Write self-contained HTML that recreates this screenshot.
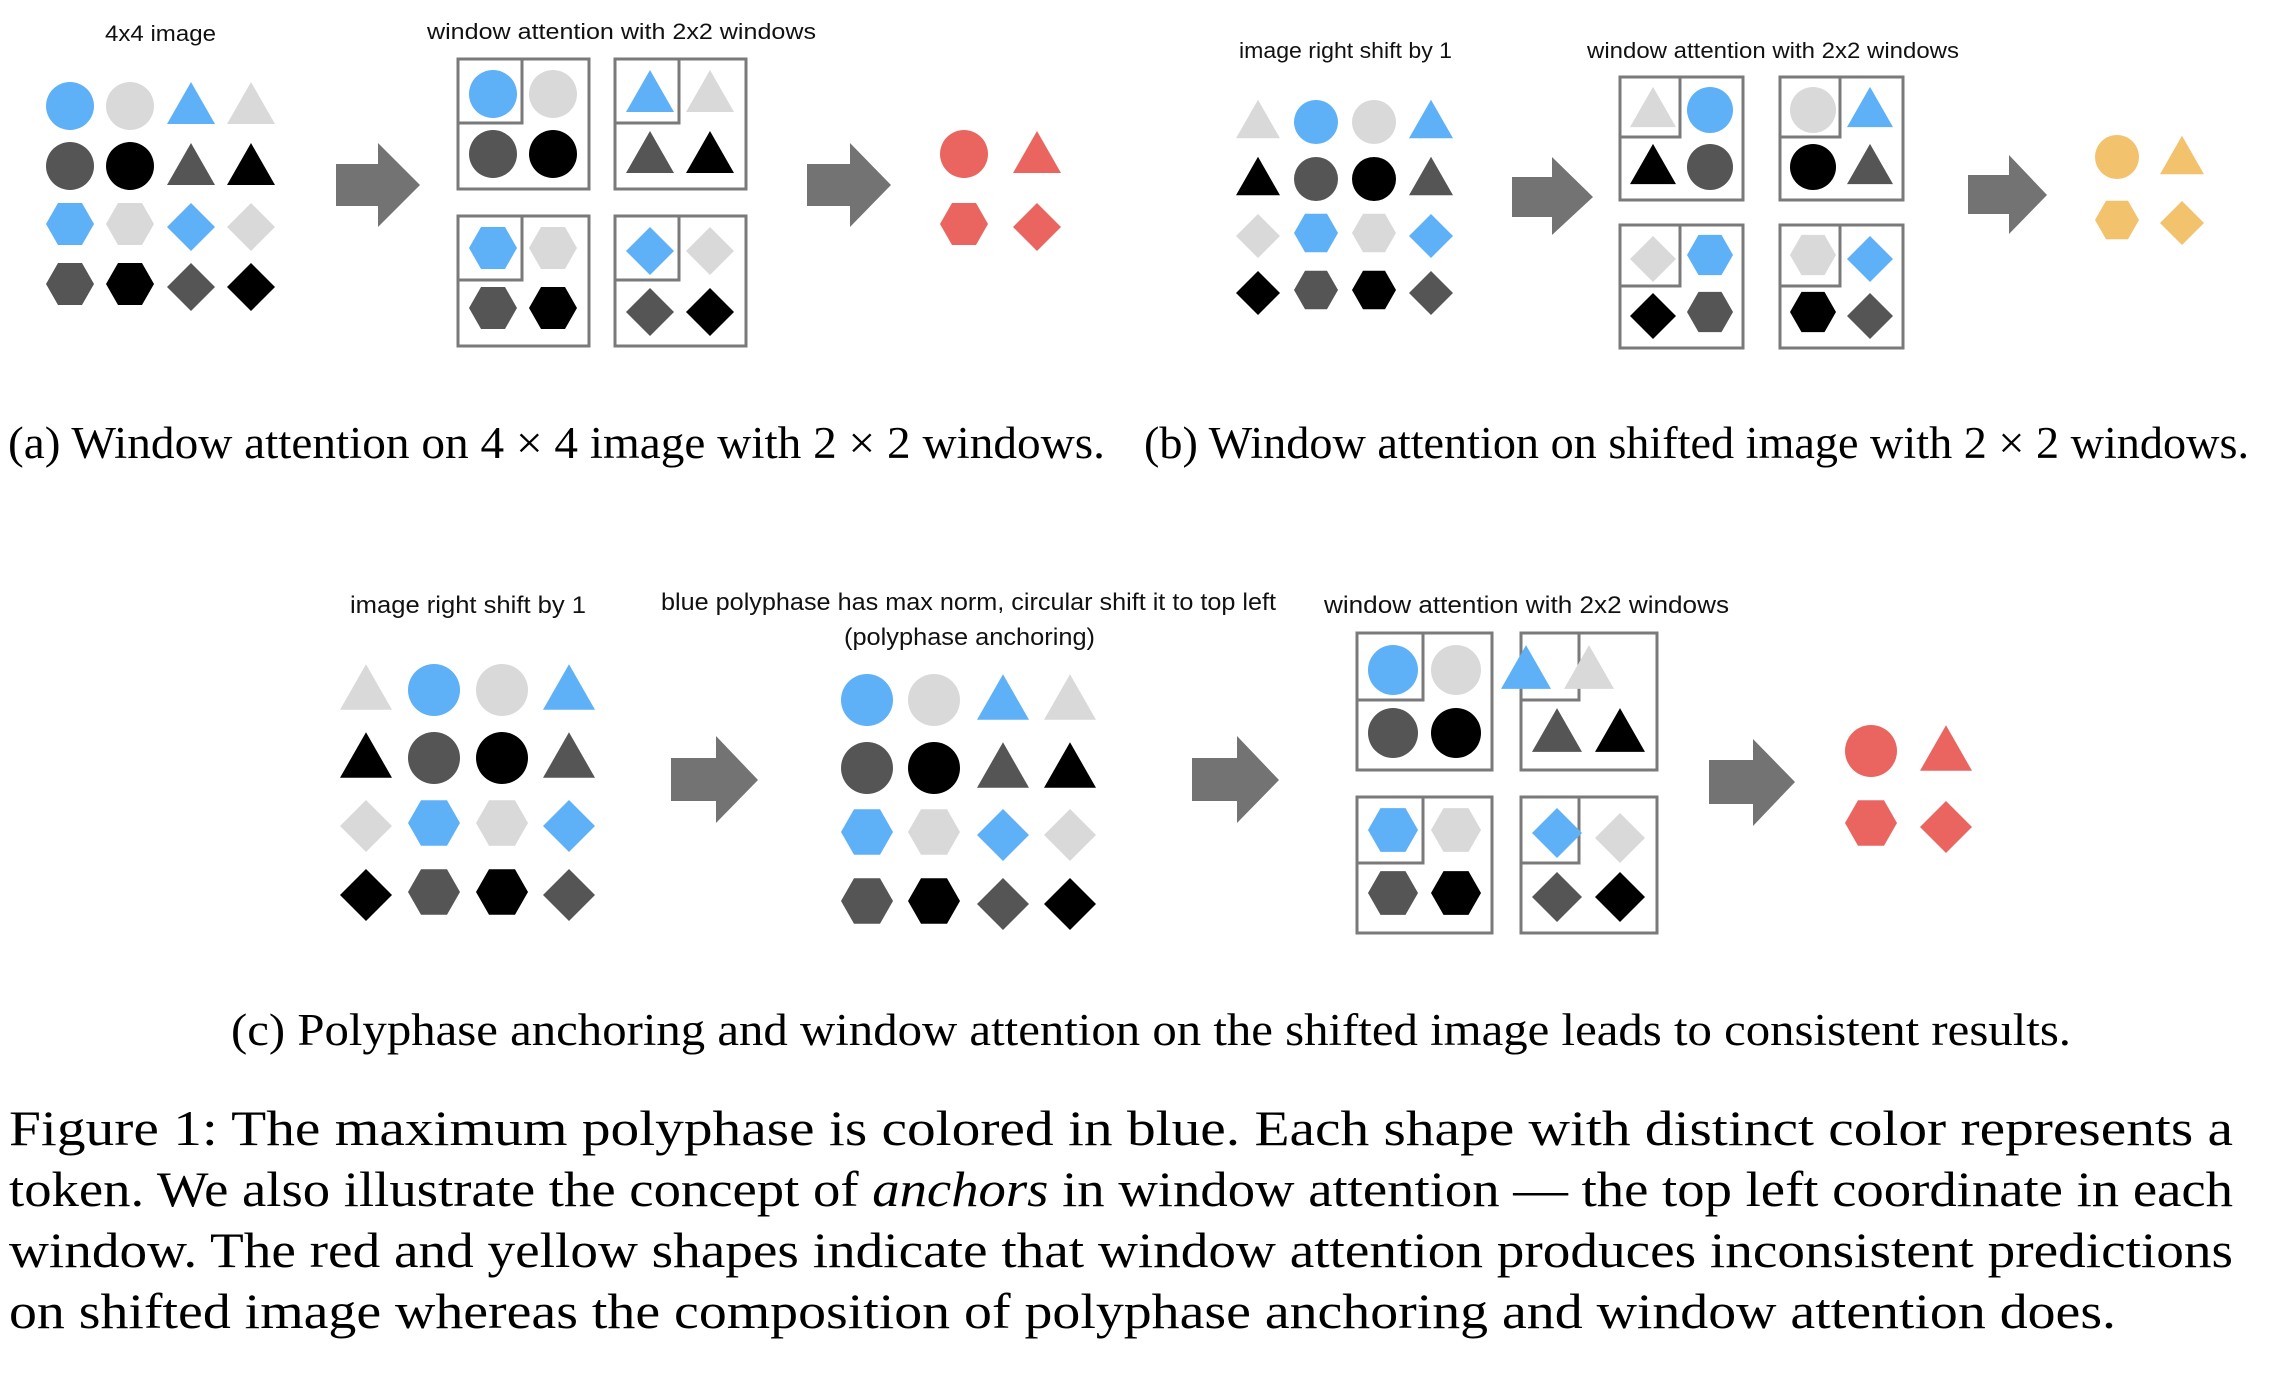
<!DOCTYPE html>
<html><head><meta charset="utf-8"><style>
html,body{margin:0;padding:0;background:#fff}
svg{display:block}
.s{font-family:"Liberation Sans",sans-serif;fill:#111}
.t{font-family:"Liberation Serif",serif;fill:#000}
</style></head><body>
<svg xmlns="http://www.w3.org/2000/svg" width="2278" height="1374" viewBox="0 0 2278 1374">
<defs>
<circle id="c" cx="0" cy="0" r="1"/>
<polygon id="t" points="0,-0.875 1,0.875 -1,0.875"/>
<polygon id="h" points="-1,0 -0.5,-0.875 0.5,-0.875 1,0 0.5,0.875 -0.5,0.875"/>
<polygon id="d" points="0,-1 1,0 0,1 -1,0"/>
</defs>
<rect width="2278" height="1374" fill="#fff"/>

<!-- ===== (a) ===== -->
<text class="s" x="105" y="41" font-size="22" textLength="111" lengthAdjust="spacingAndGlyphs">4x4 image</text>
<text class="s" x="427" y="39" font-size="22" textLength="389" lengthAdjust="spacingAndGlyphs">window attention with 2x2 windows</text>
<g>
<use href="#c" transform="translate(70,106) scale(24)" fill="#5eb0f7"/>
<use href="#c" transform="translate(130,106) scale(24)" fill="#d9d9d9"/>
<use href="#t" transform="translate(191,103) scale(24)" fill="#5eb0f7"/>
<use href="#t" transform="translate(251,103) scale(24)" fill="#d9d9d9"/>
<use href="#c" transform="translate(70,166) scale(24)" fill="#555"/>
<use href="#c" transform="translate(130,166) scale(24)" fill="#000"/>
<use href="#t" transform="translate(191,164) scale(24)" fill="#555"/>
<use href="#t" transform="translate(251,164) scale(24)" fill="#000"/>
<use href="#h" transform="translate(70,224) scale(24)" fill="#5eb0f7"/>
<use href="#h" transform="translate(130,224) scale(24)" fill="#d9d9d9"/>
<use href="#d" transform="translate(191,227) scale(24)" fill="#5eb0f7"/>
<use href="#d" transform="translate(251,227) scale(24)" fill="#d9d9d9"/>
<use href="#h" transform="translate(70,284) scale(24)" fill="#555"/>
<use href="#h" transform="translate(130,284) scale(24)" fill="#000"/>
<use href="#d" transform="translate(191,287) scale(24)" fill="#555"/>
<use href="#d" transform="translate(251,287) scale(24)" fill="#000"/>
</g>
<polygon points="336,164 378,164 378,143 420,185 378,227 378,206 336,206" fill="#737373"/>
<g fill="none" stroke="#7a7a7a" stroke-width="3">
<rect x="458" y="59" width="131" height="130"/><polyline points="458,123 522,123 522,59"/>
<rect x="615" y="59" width="131" height="130"/><polyline points="615,123 679,123 679,59"/>
<rect x="458" y="216" width="131" height="130"/><polyline points="458,280 522,280 522,216"/>
<rect x="615" y="216" width="131" height="130"/><polyline points="615,280 679,280 679,216"/>
</g>
<use href="#c" transform="translate(493,94) scale(24)" fill="#5eb0f7"/>
<use href="#c" transform="translate(553,94) scale(24)" fill="#d9d9d9"/>
<use href="#c" transform="translate(493,154) scale(24)" fill="#555"/>
<use href="#c" transform="translate(553,154) scale(24)" fill="#000"/>
<use href="#t" transform="translate(650,91) scale(24)" fill="#5eb0f7"/>
<use href="#t" transform="translate(710,91) scale(24)" fill="#d9d9d9"/>
<use href="#t" transform="translate(650,152) scale(24)" fill="#555"/>
<use href="#t" transform="translate(710,152) scale(24)" fill="#000"/>
<use href="#h" transform="translate(493,248) scale(24)" fill="#5eb0f7"/>
<use href="#h" transform="translate(553,248) scale(24)" fill="#d9d9d9"/>
<use href="#h" transform="translate(493,308) scale(24)" fill="#555"/>
<use href="#h" transform="translate(553,308) scale(24)" fill="#000"/>
<use href="#d" transform="translate(650,251) scale(24)" fill="#5eb0f7"/>
<use href="#d" transform="translate(710,251) scale(24)" fill="#d9d9d9"/>
<use href="#d" transform="translate(650,312) scale(24)" fill="#555"/>
<use href="#d" transform="translate(710,312) scale(24)" fill="#000"/>
<polygon points="807,164 850,164 850,143 891,185 850,227 850,206 807,206" fill="#737373"/>
<use href="#c" transform="translate(964,154) scale(24)" fill="#ea6560"/>
<use href="#t" transform="translate(1037,152) scale(24)" fill="#ea6560"/>
<use href="#h" transform="translate(964,224) scale(24)" fill="#ea6560"/>
<use href="#d" transform="translate(1037,227) scale(24)" fill="#ea6560"/>
<text class="t" x="8" y="458" font-size="45" textLength="1097" lengthAdjust="spacingAndGlyphs">(a) Window attention on 4 × 4 image with 2 × 2 windows.</text>

<!-- ===== (b) ===== -->
<text class="s" x="1239" y="58" font-size="22" textLength="213" lengthAdjust="spacingAndGlyphs">image right shift by 1</text>
<text class="s" x="1587" y="58" font-size="22" textLength="372" lengthAdjust="spacingAndGlyphs">window attention with 2x2 windows</text>
<g>
<use href="#t" transform="translate(1258,119) scale(22)" fill="#d9d9d9"/>
<use href="#c" transform="translate(1316,122) scale(22)" fill="#5eb0f7"/>
<use href="#c" transform="translate(1374,122) scale(22)" fill="#d9d9d9"/>
<use href="#t" transform="translate(1431,119) scale(22)" fill="#5eb0f7"/>
<use href="#t" transform="translate(1258,176) scale(22)" fill="#000"/>
<use href="#c" transform="translate(1316,179) scale(22)" fill="#555"/>
<use href="#c" transform="translate(1374,179) scale(22)" fill="#000"/>
<use href="#t" transform="translate(1431,176) scale(22)" fill="#555"/>
<use href="#d" transform="translate(1258,236) scale(22)" fill="#d9d9d9"/>
<use href="#h" transform="translate(1316,233) scale(22)" fill="#5eb0f7"/>
<use href="#h" transform="translate(1374,233) scale(22)" fill="#d9d9d9"/>
<use href="#d" transform="translate(1431,236) scale(22)" fill="#5eb0f7"/>
<use href="#d" transform="translate(1258,293) scale(22)" fill="#000"/>
<use href="#h" transform="translate(1316,290) scale(22)" fill="#555"/>
<use href="#h" transform="translate(1374,290) scale(22)" fill="#000"/>
<use href="#d" transform="translate(1431,293) scale(22)" fill="#555"/>
</g>
<polygon points="1512,177 1552,177 1552,157 1593,197 1552,235 1552,217 1512,217" fill="#737373"/>
<g fill="none" stroke="#7a7a7a" stroke-width="3">
<rect x="1620" y="77" width="123" height="123"/><polyline points="1620,137 1680,137 1680,77"/>
<rect x="1780" y="77" width="123" height="123"/><polyline points="1780,137 1840,137 1840,77"/>
<rect x="1620" y="225" width="123" height="123"/><polyline points="1620,286 1680,286 1680,225"/>
<rect x="1780" y="225" width="123" height="123"/><polyline points="1780,286 1840,286 1840,225"/>
</g>
<use href="#t" transform="translate(1653,107) scale(23)" fill="#d9d9d9"/>
<use href="#c" transform="translate(1710,110) scale(23)" fill="#5eb0f7"/>
<use href="#t" transform="translate(1653,164) scale(23)" fill="#000"/>
<use href="#c" transform="translate(1710,167) scale(23)" fill="#555"/>
<use href="#c" transform="translate(1813,110) scale(23)" fill="#d9d9d9"/>
<use href="#t" transform="translate(1870,107) scale(23)" fill="#5eb0f7"/>
<use href="#c" transform="translate(1813,167) scale(23)" fill="#000"/>
<use href="#t" transform="translate(1870,164) scale(23)" fill="#555"/>
<use href="#d" transform="translate(1653,259) scale(23)" fill="#d9d9d9"/>
<use href="#h" transform="translate(1710,255) scale(23)" fill="#5eb0f7"/>
<use href="#d" transform="translate(1653,316) scale(23)" fill="#000"/>
<use href="#h" transform="translate(1710,312) scale(23)" fill="#555"/>
<use href="#h" transform="translate(1813,255) scale(23)" fill="#d9d9d9"/>
<use href="#d" transform="translate(1870,259) scale(23)" fill="#5eb0f7"/>
<use href="#h" transform="translate(1813,312) scale(23)" fill="#000"/>
<use href="#d" transform="translate(1870,316) scale(23)" fill="#555"/>
<polygon points="1968,175 2009,175 2009,155 2047,195 2009,234 2009,214 1968,214" fill="#737373"/>
<use href="#c" transform="translate(2117,157) scale(22)" fill="#f2c26c"/>
<use href="#t" transform="translate(2182,155) scale(22)" fill="#f2c26c"/>
<use href="#h" transform="translate(2117,220) scale(22)" fill="#f2c26c"/>
<use href="#d" transform="translate(2182,223) scale(22)" fill="#f2c26c"/>
<text class="t" x="1144" y="458" font-size="45" textLength="1105" lengthAdjust="spacingAndGlyphs">(b) Window attention on shifted image with 2 × 2 windows.</text>

<!-- ===== (c) ===== -->
<text class="s" x="350" y="613" font-size="24" textLength="236" lengthAdjust="spacingAndGlyphs">image right shift by 1</text>
<text class="s" x="661" y="610" font-size="24" textLength="615" lengthAdjust="spacingAndGlyphs">blue polyphase has max norm, circular shift it to top left</text>
<text class="s" x="844" y="645" font-size="24" textLength="251" lengthAdjust="spacingAndGlyphs">(polyphase anchoring)</text>
<text class="s" x="1324" y="613" font-size="24" textLength="405" lengthAdjust="spacingAndGlyphs">window attention with 2x2 windows</text>
<g>
<use href="#t" transform="translate(366,687) scale(26)" fill="#d9d9d9"/>
<use href="#c" transform="translate(434,690) scale(26)" fill="#5eb0f7"/>
<use href="#c" transform="translate(502,690) scale(26)" fill="#d9d9d9"/>
<use href="#t" transform="translate(569,687) scale(26)" fill="#5eb0f7"/>
<use href="#t" transform="translate(366,755) scale(26)" fill="#000"/>
<use href="#c" transform="translate(434,758) scale(26)" fill="#555"/>
<use href="#c" transform="translate(502,758) scale(26)" fill="#000"/>
<use href="#t" transform="translate(569,755) scale(26)" fill="#555"/>
<use href="#d" transform="translate(366,826) scale(26)" fill="#d9d9d9"/>
<use href="#h" transform="translate(434,823) scale(26)" fill="#5eb0f7"/>
<use href="#h" transform="translate(502,823) scale(26)" fill="#d9d9d9"/>
<use href="#d" transform="translate(569,826) scale(26)" fill="#5eb0f7"/>
<use href="#d" transform="translate(366,895) scale(26)" fill="#000"/>
<use href="#h" transform="translate(434,892) scale(26)" fill="#555"/>
<use href="#h" transform="translate(502,892) scale(26)" fill="#000"/>
<use href="#d" transform="translate(569,895) scale(26)" fill="#555"/>
</g>
<polygon points="671,758 716,758 716,736 758,780 716,823 716,801 671,801" fill="#737373"/>
<g>
<use href="#c" transform="translate(867,700) scale(26)" fill="#5eb0f7"/>
<use href="#c" transform="translate(934,700) scale(26)" fill="#d9d9d9"/>
<use href="#t" transform="translate(1003,697) scale(26)" fill="#5eb0f7"/>
<use href="#t" transform="translate(1070,697) scale(26)" fill="#d9d9d9"/>
<use href="#c" transform="translate(867,768) scale(26)" fill="#555"/>
<use href="#c" transform="translate(934,768) scale(26)" fill="#000"/>
<use href="#t" transform="translate(1003,765) scale(26)" fill="#555"/>
<use href="#t" transform="translate(1070,765) scale(26)" fill="#000"/>
<use href="#h" transform="translate(867,832) scale(26)" fill="#5eb0f7"/>
<use href="#h" transform="translate(934,832) scale(26)" fill="#d9d9d9"/>
<use href="#d" transform="translate(1003,835) scale(26)" fill="#5eb0f7"/>
<use href="#d" transform="translate(1070,835) scale(26)" fill="#d9d9d9"/>
<use href="#h" transform="translate(867,901) scale(26)" fill="#555"/>
<use href="#h" transform="translate(934,901) scale(26)" fill="#000"/>
<use href="#d" transform="translate(1003,904) scale(26)" fill="#555"/>
<use href="#d" transform="translate(1070,904) scale(26)" fill="#000"/>
</g>
<polygon points="1192,758 1237,758 1237,736 1279,780 1237,823 1237,801 1192,801" fill="#737373"/>
<g fill="none" stroke="#7a7a7a" stroke-width="3">
<rect x="1357" y="633" width="135" height="137"/><polyline points="1357,700 1423,700 1423,633"/>
<rect x="1521" y="633" width="136" height="137"/><polyline points="1521,700 1579,700 1579,633"/>
<rect x="1357" y="797" width="135" height="136"/><polyline points="1357,863 1423,863 1423,797"/>
<rect x="1521" y="797" width="136" height="136"/><polyline points="1521,863 1579,863 1579,797"/>
</g>
<use href="#c" transform="translate(1393,670) scale(25)" fill="#5eb0f7"/>
<use href="#c" transform="translate(1456,670) scale(25)" fill="#d9d9d9"/>
<use href="#c" transform="translate(1393,733) scale(25)" fill="#555"/>
<use href="#c" transform="translate(1456,733) scale(25)" fill="#000"/>
<use href="#t" transform="translate(1526,667) scale(25)" fill="#5eb0f7"/>
<use href="#t" transform="translate(1589,667) scale(25)" fill="#d9d9d9"/>
<use href="#t" transform="translate(1557,730) scale(25)" fill="#555"/>
<use href="#t" transform="translate(1620,730) scale(25)" fill="#000"/>
<use href="#h" transform="translate(1393,830) scale(25)" fill="#5eb0f7"/>
<use href="#h" transform="translate(1456,830) scale(25)" fill="#d9d9d9"/>
<use href="#h" transform="translate(1393,893) scale(25)" fill="#555"/>
<use href="#h" transform="translate(1456,893) scale(25)" fill="#000"/>
<use href="#d" transform="translate(1557,833) scale(25)" fill="#5eb0f7"/>
<use href="#d" transform="translate(1620,838) scale(25)" fill="#d9d9d9"/>
<use href="#d" transform="translate(1557,897) scale(25)" fill="#555"/>
<use href="#d" transform="translate(1620,897) scale(25)" fill="#000"/>
<polygon points="1709,760 1753,760 1753,739 1795,782 1753,826 1753,804 1709,804" fill="#737373"/>
<use href="#c" transform="translate(1871,751) scale(26)" fill="#ea6560"/>
<use href="#t" transform="translate(1946,748) scale(26)" fill="#ea6560"/>
<use href="#h" transform="translate(1871,823) scale(26)" fill="#ea6560"/>
<use href="#d" transform="translate(1946,827) scale(26)" fill="#ea6560"/>
<text class="t" x="231" y="1045" font-size="45" textLength="1840" lengthAdjust="spacingAndGlyphs">(c) Polyphase anchoring and window attention on the shifted image leads to consistent results.</text>

<!-- ===== Figure caption ===== -->
<text class="t" x="9" y="1145" font-size="50" textLength="2224" lengthAdjust="spacingAndGlyphs">Figure 1: The maximum polyphase is colored in blue. Each shape with distinct color represents a</text>
<text class="t" x="9" y="1206" font-size="50" textLength="2224" lengthAdjust="spacingAndGlyphs">token. We also illustrate the concept of <tspan font-style="italic">anchors</tspan> in window attention — the top left coordinate in each</text>
<text class="t" x="9" y="1267" font-size="50" textLength="2224" lengthAdjust="spacingAndGlyphs">window. The red and yellow shapes indicate that window attention produces inconsistent predictions</text>
<text class="t" x="9" y="1328" font-size="50" textLength="2107" lengthAdjust="spacingAndGlyphs">on shifted image whereas the composition of polyphase anchoring and window attention does.</text>
</svg>
</body></html>
